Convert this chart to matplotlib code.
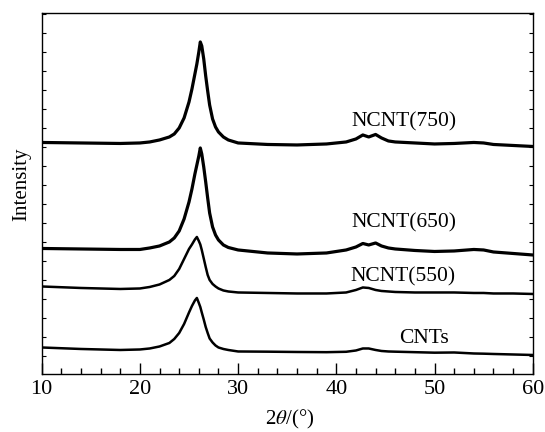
import matplotlib
matplotlib.use("Agg")
import matplotlib.pyplot as plt
import numpy as np

# XRD 패턴 (값은 그림에서 읽은 값, 곡선별로 세로 오프셋 포함)
two_theta = [10, 14, 18, 20, 21, 22, 23, 23.5, 24, 24.5, 25, 25.3, 25.6, 25.8,
             26.0, 26.15, 26.3, 26.5, 26.7, 26.9, 27.1, 27.4, 27.7, 28, 28.5,
             29, 30, 33, 36, 39, 41, 42, 42.7, 43.3, 44.0, 44.6, 45.3, 46, 48,
             50, 52, 54, 55, 56, 58, 60]

ncnt750 = [231.5, 231, 230.5, 231, 232, 234, 237, 240, 246, 256, 272, 285, 300,
           310, 322, 332, 328, 315, 298, 283, 269, 255, 247, 242, 237, 234, 231,
           229.5, 229, 230, 232, 235, 239, 237, 239.5, 236, 233, 232, 231, 230,
           230.5, 231.5, 231, 229.5, 228.5, 227.5]

ncnt650 = [125.5, 125, 124.5, 124.5, 126, 128, 132, 136, 143, 155, 172, 185,
           200, 209, 218, 226, 220, 207, 192, 176, 161, 147, 139, 134, 129,
           126.5, 124, 121, 120, 121, 124, 127, 130.5, 129, 131, 128, 126, 125,
           123.5, 122.5, 123, 124.5, 124, 122, 120.5, 119]

ncnt550 = [87.5, 86, 85, 85.5, 87, 89.5, 94, 98, 105, 115, 125, 129.5, 134.5,
           137, 133, 129.5, 124, 115.5, 107, 99, 94, 90, 87.5, 85.5, 83.5, 82.5,
           81.5, 81, 80.5, 80.5, 81.5, 84, 86.5, 86, 84, 83, 82.5, 82, 81.5,
           81.5, 81.5, 81, 81, 80.5, 80.5, 80]

cnts = [26.5, 25, 24, 24.5, 25.5, 27.5, 31, 35, 41, 50, 61.5, 68, 73.5, 76, 71,
        67, 61.5, 54.5, 47, 41, 35.5, 31.5, 28.5, 26.5, 25, 24, 22.5, 22.3, 22,
        21.8, 22.2, 23.5, 25.5, 25.5, 24, 23, 22.5, 22.3, 21.8, 21.3, 21.5,
        20.5, 20.3, 20, 19.5, 19]

labels = ["NCNT(750)", "NCNT(650)", "NCNT(550)", "CNTs"]
label_x = [46.85, 46.85, 46.8, 48.95]
label_y = [252, 151.5, 97.5, 35.5]

plt.rcParams['font.family'] = ['Liberation Serif', 'DejaVu Serif']
plt.rcParams['mathtext.fontset'] = 'stix'

fig = plt.figure(figsize=(5.45, 4.32), dpi=100)
ax = fig.add_axes([0.0765, 0.1343, 0.901, 0.8357])

series = [ncnt750, ncnt650, ncnt550, cnts]
widths = [2.3, 2.3, 1.8, 1.8]
for ys, lw in zip(series, widths):
    ax.plot(two_theta, ys, color='black', lw=lw)

for txt, lx, ly in zip(labels, label_x, label_y):
    ax.text(lx, ly, txt, fontsize=15.5, ha='center', va='center')

ax.set_xlim(10, 60)
ax.set_ylim(0, 361)
ax.set_xticks(np.arange(10, 61, 10))
ax.set_xticks(np.arange(10, 61, 2), minor=True)
ax.set_yticks(np.arange(17.5, 361, 19.05))
ax.set_yticklabels([])
ax.tick_params(axis='x', which='major', direction='in', length=8, width=1,
               labelsize=16, pad=4, top=False)
ax.tick_params(axis='x', which='minor', direction='in', length=4, width=1,
               top=False)
ax.tick_params(axis='y', which='major', direction='in', length=3, width=0.8,
               right=True)
for sp in ax.spines.values():
    sp.set_linewidth(1.0)

ax.set_xlabel(r'2$\theta$/(°)', fontsize=15)
ax.xaxis.set_label_coords(0.505, -0.095)
ax.text(-0.0407, 0.526, 'Intensity', fontsize=15, rotation=90,
        ha='center', va='center', transform=ax.transAxes)

fig.savefig('out.png', dpi=100)
